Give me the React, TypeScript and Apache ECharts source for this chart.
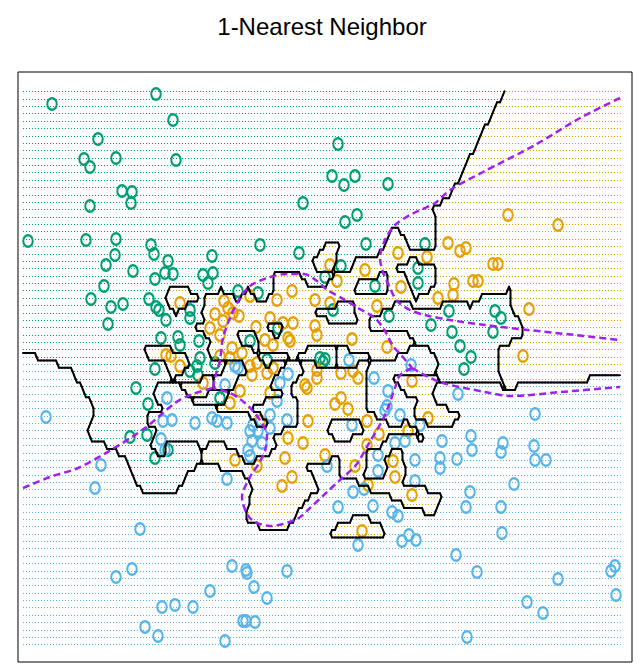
import React, { useEffect, useRef } from "react";
import * as echarts from "echarts";

// Training points (x, y), in plot units (y grows downward)
const GREEN_PTS: number[][] = [
  [156,94],[52,104],[173,120],[98,139],[84,159],[90,167],[116,158],[176,160],[122,191],[132,192],[131,203],[90,206],[28,241],[86,240],[116,239],[151,245],[154,254],[115,255],[106,265],[168,261],[165,273],[155,279],[173,274],[133,271],
  [338,144],[332,176],[344,185],[355,176],[303,203],[388,184],[345,222],[357,215],[260,245],[299,253],[212,256],[366,244],[425,244],[341,266],[418,268],
  [104,286],[91,299],[111,307],[123,304],[149,299],[156,307],[159,310],[166,320],[108,324],[161,338],[178,337],
  [155,369],[136,388],[148,404],[130,437],[147,435],[168,450],[155,458],
  [203,275],[213,273],[208,283],[238,291],[258,293],[325,277],[190,310],[190,318],[180,345],[199,341],[250,341],[200,358],[197,366],[198,375],[215,363],[190,371],[267,360],[320,358],[323,362],[220,398],[278,328],
  [375,286],[418,283],[333,310],[389,316],[449,311],[431,325],[452,332],[460,346],[471,357],[464,369],[325,359],
  [495,311],[501,318],[493,332]
];
const ORANGE_PTS: number[][] = [
  [508,215],[558,225],[493,264],[498,264],[448,243],[460,251],[466,248],[398,253],[427,257],[330,265],[365,270],
  [337,281],[401,287],[454,284],[473,281],[453,295],[438,298],[330,303],[377,306],[352,339],[387,347],[341,373],[353,371],[358,378],[412,381],[341,398],[335,404],[348,409],[428,418],[367,421],[379,434],[408,431],[367,445],[393,461],[355,466],
  [478,281],[529,309],[523,356],
  [250,296],[277,300],[292,291],[315,300],[180,303],[224,301],[228,308],[233,313],[215,314],[223,321],[239,316],[270,318],[283,323],[293,323],[256,327],[315,326],[317,335],[210,328],[220,335],[265,340],[273,345],[288,338],[290,341],[232,348],[242,353],[220,356],[230,358],[180,366],[250,366],[257,363],[252,375],[267,373],[273,368],[305,385],[307,388],[317,378],[317,370],[203,383],[240,391],[270,393],[230,403],[260,421],[308,421],[288,438],[303,443],[235,460],[285,458],[325,455],[257,466],
  [166,355],[171,356],
  [282,486],[292,477],[395,477],[368,485],[412,495],[362,531]
];
const BLUE_PTS: number[][] = [
  [167,398],[46,417],[163,421],[172,420],[161,439],[165,450],[101,465],
  [95,488],[140,529],[132,569],[116,577],[162,607],[175,605],[145,627],[158,636],
  [227,479],[327,466],[232,566],[246,570],[247,573],[287,571],[254,587],[210,591],[267,598],[193,607],[243,621],[246,621],[255,622],[225,641],
  [378,471],[415,481],[440,468],[353,492],[364,489],[470,492],[338,507],[373,506],[392,512],[398,516],[466,507],[358,545],[402,541],[409,535],[416,540],[456,555],[477,572],[467,637],
  [514,484],[501,507],[502,533],[558,579],[611,571],[615,566],[616,595],[527,602],[543,613],
  [535,414],[503,443],[501,452],[534,446],[535,460],[546,460],
  [349,360],[411,365],[374,378],[388,391],[458,394],[385,410],[387,406],[400,415],[471,436],[472,450],[442,441],[420,425],[352,425],[405,441],[395,443],[415,460],[378,455],[440,458],[457,459],
  [235,366],[238,368],[288,374],[280,383],[225,385],[277,401],[195,423],[212,418],[217,421],[227,423],[253,425],[270,415],[287,420],[270,428],[250,431],[258,431],[252,441],[262,443],[248,450],[250,456]
];

// Bayes decision boundary pieces (dashed purple)
const BAYES_GREEN_ORANGE_TOP: number[][] = [
  [620,98],[580,118],[535,145],[483,172],[450,190],[435,203],[410,215],[395,225],[385,240],[380,258],[383,272],[390,288],[397,301],[410,310],[425,315],[450,320],[485,325],[528,330],[575,335],[620,340]
];
const BAYES_GREEN_ORANGE_ARC: number[][] = [
  [213,388],[215,378],[220,360],[223,338],[230,318],[240,298],[250,286],[267,278],[287,274],[304,274],[317,281],[326,289],[345,300],[358,308],[375,318],[385,331],[393,346],[402,356],[412,368]
];
const BAYES_GREEN_BLUE_RIGHT: number[][] = [
  [412,368],[440,382],[485,392],[511,396],[561,392],[620,387]
];
const BAYES_ORANGE_BLUE: number[][] = [
  [412,368],[400,375],[396,385],[385,415],[368,445],[356,465],[340,480],[327,492],[310,508],[297,519],[270,526],[255,522],[247,514],[242,497],[250,477],[258,465],[265,451],[267,435],[263,425],[253,411],[240,399],[230,393],[213,388]
];
const BAYES_GREEN_BLUE_LEFT: number[][] = [
  [23,488],[50,477],[78,468],[111,450],[145,428],[175,403],[190,395],[213,388]
];

const CLASS_COLORS = ["#009E73", "#E69F00", "#56B4E9"];
const TITLE = "1-Nearest Neighbor";

// prediction grid
const GRID_X0 = 23, GRID_X1 = 620, GRID_NX = 200;
const GRID_Y0 = 91.3, GRID_Y1 = 644.3, GRID_NY = 76;
const Y_WEIGHT = 2;

function buildGrid() {
  const pts: { x: number; y: number; c: number }[] = [];
  [GREEN_PTS, ORANGE_PTS, BLUE_PTS].forEach((arr, c) => arr.forEach(([x, y]) => pts.push({ x, y, c })));
  const dx = (GRID_X1 - GRID_X0) / (GRID_NX - 1);
  const dy = (GRID_Y1 - GRID_Y0) / (GRID_NY - 1);
  const X = (i: number) => GRID_X0 + i * dx;
  const Y = (j: number) => GRID_Y0 + j * dy;
  const cls: number[][] = [];
  for (let j = 0; j < GRID_NY; j++) {
    const row: number[] = [];
    for (let i = 0; i < GRID_NX; i++) {
      const gx = X(i), gy = Y(j);
      let best = Infinity, bc = 0;
      for (const p of pts) {
        const d = (p.x - gx) ** 2 + Y_WEIGHT * (p.y - gy) ** 2;
        if (d < best) { best = d; bc = p.c; }
      }
      row.push(bc);
    }
    cls.push(row);
  }
  // runs of dots per row
  const runs: number[][] = [];
  for (let j = 0; j < GRID_NY; j++) {
    let s = 0;
    for (let i = 1; i <= GRID_NX; i++) {
      if (i === GRID_NX || cls[j][i] !== cls[j][s]) {
        runs.push([X(s) - dx / 6, X(i - 1) + dx / 6, Y(j), cls[j][s]]);
        s = i;
      }
    }
  }
  // marching squares boundary
  const segs: number[][] = [];
  const seen = new Set<string>();
  for (let k = 0; k < 3; k++) {
    for (let j = 0; j < GRID_NY - 1; j++) {
      for (let i = 0; i < GRID_NX - 1; i++) {
        const a = cls[j][i] === k, b = cls[j][i + 1] === k, c = cls[j + 1][i + 1] === k, d = cls[j + 1][i] === k;
        const T = [X(i + 0.5), Y(j)], R = [X(i + 1), Y(j + 0.5)], B = [X(i + 0.5), Y(j + 1)], L = [X(i), Y(j + 0.5)];
        const e: number[][] = [];
        if (a !== b) e.push(T);
        if (b !== c) e.push(R);
        if (c !== d) e.push(B);
        if (d !== a) e.push(L);
        const add = (p: number[], q: number[]) => {
          const key = [p, q].map(v => v[0].toFixed(2) + "," + v[1].toFixed(2)).sort().join("|");
          if (seen.has(key)) return;
          seen.add(key);
          segs.push([p[0], p[1], q[0], q[1]]);
        };
        if (e.length === 2) add(e[0], e[1]);
        else if (e.length === 4) {
          if (a) { add(T, R); add(B, L); } else { add(T, L); add(R, B); }
        }
      }
    }
  }
  return { runs, segs };
}

export default function App() {
  const ref = useRef<HTMLDivElement>(null);
  useEffect(() => {
    if (!ref.current) return;
    const chart = echarts.init(ref.current, undefined, { renderer: "svg" });
    const { runs, segs } = buildGrid();
    const ellipse = "path://M0,6A5,6,0,1,1,10,6A5,6,0,1,1,0,6Z";
    const scatter = (data: number[][], c: number) => ({
      type: "scatter",
      data,
      symbol: ellipse,
      symbolSize: [9.5, 11.5],
      itemStyle: { color: "rgba(0,0,0,0)", borderColor: CLASS_COLORS[c], borderWidth: 2.2, opacity: 1 },
      z: 3,
      silent: true,
    });
    const bayes = (data: number[][]) => ({
      type: "line",
      data,
      showSymbol: false,
      symbol: "none",
      smooth: 0.3,
      lineStyle: { color: "#A020F0", width: 2.5, type: [7, 4] },
      z: 5,
      silent: true,
    });
    chart.setOption({
      animation: false,
      title: {
        text: TITLE,
        left: "center",
        top: 9,
        textStyle: { fontSize: 24, fontWeight: "normal", color: "#000", fontFamily: "Liberation Sans, Arial, sans-serif" },
      },
      grid: { left: 18, top: 72, width: 614, height: 590, show: true, borderColor: "#000", borderWidth: 1, backgroundColor: "#fff" },
      xAxis: { type: "value", min: 18, max: 632, show: false },
      yAxis: { type: "value", min: 72, max: 662, inverse: true, show: false },
      series: [
        {
          type: "custom",
          data: runs,
          z: 1,
          silent: true,
          renderItem: (_p: any, api: any) => {
            const p0 = api.coord([api.value(0), api.value(2)]);
            const p1 = api.coord([api.value(1), api.value(2)]);
            const y = Math.round(p0[1]) + 0.5;
            return {
              type: "line",
              shape: { x1: Math.round(p0[0]), y1: y, x2: Math.round(p1[0]), y2: y },
              style: { stroke: CLASS_COLORS[api.value(3)], lineWidth: 1, lineDash: [1, 2] },
            };
          },
        },
        scatter(GREEN_PTS, 0),
        scatter(ORANGE_PTS, 1),
        scatter(BLUE_PTS, 2),
        {
          type: "custom",
          data: segs,
          z: 4,
          silent: true,
          renderItem: (_p: any, api: any) => {
            const p0 = api.coord([api.value(0), api.value(1)]);
            const p1 = api.coord([api.value(2), api.value(3)]);
            return {
              type: "line",
              shape: { x1: p0[0], y1: p0[1], x2: p1[0], y2: p1[1] },
              style: { stroke: "#000", lineWidth: 2, lineCap: "round" },
            };
          },
        },
        bayes(BAYES_GREEN_ORANGE_TOP),
        bayes(BAYES_GREEN_ORANGE_ARC),
        bayes(BAYES_GREEN_BLUE_RIGHT),
        bayes(BAYES_ORANGE_BLUE),
        bayes(BAYES_GREEN_BLUE_LEFT),
      ],
    });
    return () => chart.dispose();
  }, []);
  return <div ref={ref} style={{ position: "absolute", left: 0, top: 0, width: 644, height: 671 }} />;
}
